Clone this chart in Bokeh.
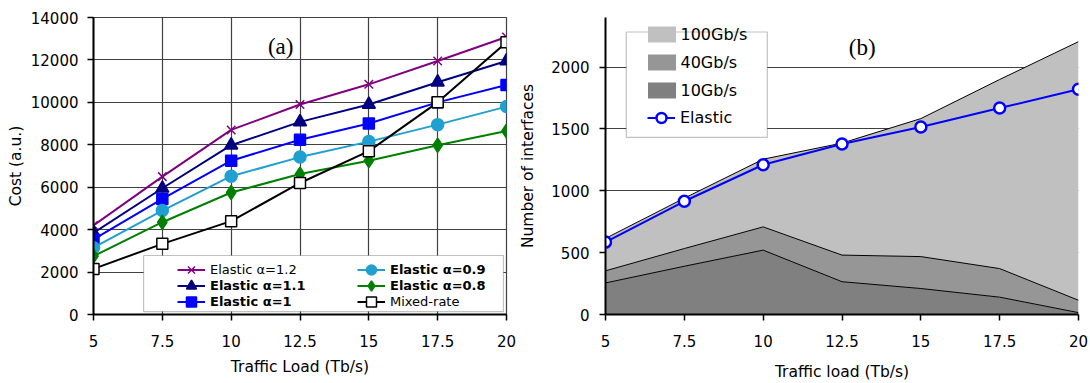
from bokeh.plotting import figure
from bokeh.models import (ColumnDataSource, Legend, LegendItem, BoxAnnotation, Label,
                          Range1d, FixedTicker, NumeralTickFormatter)
from bokeh.layouts import row
from bokeh.embed import file_html
from bokeh.resources import INLINE

# ---------------- data ----------------
load = [5, 7.5, 10, 12.5, 15, 17.5, 20]

elastic_12 = [4200, 6500, 8700, 9900, 10850, 11950, 13080]
elastic_11 = [3850, 5950, 7980, 9080, 9900, 10950, 11950]
elastic_10 = [3540, 5450, 7250, 8240, 9000, 10000, 10820]
elastic_09 = [3150, 4900, 6520, 7420, 8150, 8950, 9800]
elastic_08 = [2750, 4350, 5750, 6620, 7250, 7980, 8650]
mixed_rate = [2150, 3330, 4400, 6200, 7700, 10000, 12830]

if_10g = [255, 390, 520, 265, 210, 140, 15]
if_40g = [98, 143, 188, 215, 258, 231, 100]
if_100g = [262, 407, 547, 905, 1115, 1528, 2090]
elastic_if = [585, 915, 1210, 1378, 1515, 1668, 1820]

cost_ticks = [0, 2000, 4000, 6000, 8000, 10000, 12000, 14000]
if_ticks = [0, 500, 1000, 1500, 2000]

FONT = "DejaVu Sans"


def style_axes(p):
    for ax in (p.xaxis[0], p.yaxis[0]):
        ax.axis_line_color = "black"
        ax.axis_line_width = 2
        ax.major_tick_line_color = "black"
        ax.major_tick_line_width = 1.5
        ax.major_tick_out = 6
        ax.major_tick_in = 0
        ax.minor_tick_line_color = None
        ax.major_label_text_font = FONT
        ax.major_label_text_font_size = "15px"
        ax.major_label_text_color = "black"
        ax.axis_label_text_font = FONT
        ax.axis_label_text_font_size = "15.5px"
        ax.axis_label_text_font_style = "normal"
        ax.axis_label_text_color = "black"


# ---------------- left chart (a) ----------------
p1 = figure(width=516, height=383, x_range=Range1d(5, 20), y_range=Range1d(0, 14000),
            output_backend="svg", toolbar_location=None,
            min_border_left=93, min_border_right=10, min_border_top=17, min_border_bottom=64)
p1.background_fill_color = "white"
p1.border_fill_color = "white"
p1.outline_line_color = "#404040"
p1.outline_line_width = 1.2
p1.xaxis.ticker = FixedTicker(ticks=load)
p1.yaxis.ticker = FixedTicker(ticks=cost_ticks)
p1.xaxis.formatter = NumeralTickFormatter(format="0.[0]")
p1.xaxis.axis_label = "Traffic Load (Tb/s)"
p1.yaxis.axis_label = "Cost (a.u.)"
style_axes(p1)
p1.yaxis.major_label_standoff = 9
p1.xaxis.major_label_standoff = 14
p1.xaxis.axis_label_standoff = 8
p1.yaxis.axis_label_standoff = 3
p1.xgrid.grid_line_color = "#404040"
p1.ygrid.grid_line_color = "#404040"
p1.xgrid.grid_line_width = 1.2
p1.ygrid.grid_line_width = 1.2

src1 = ColumnDataSource(dict(load=load, e12=elastic_12, e11=elastic_11, e10=elastic_10,
                             e09=elastic_09, e08=elastic_08, mix=mixed_rate))

series = [
    ("e12", "Elastic \u03b1=1.2", "#800080", "x", 12, "#800080", False),
    ("e11", "Elastic \u03b1=1.1", "#000080", "triangle", 13, "#000080", True),
    ("e10", "Elastic \u03b1=1", "#0000ff", "square", 11, "#0000ff", True),
    ("e09", "Elastic \u03b1=0.9", "#20a0d0", "circle", 12, "#20a0d0", True),
    ("e08", "Elastic \u03b1=0.8", "#008000", "diamond", 14, "#008000", True),
    ("mix", "Mixed-rate", "black", "square", 11, "white", False),
]

renderers = {}
for key, label, color, marker, size, fill, bold in series:
    lr = p1.line("load", key, source=src1, line_color=color, line_width=2)
    sr = p1.scatter("load", key, source=src1, marker=marker, size=size,
                    line_color=color, fill_color=fill, line_width=1.5)
    renderers[key] = (lr, sr, label, bold)

# legend frame
p1.add_layout(BoxAnnotation(left=6.82, right=19.89, bottom=139, top=2781,
                            fill_color="white", fill_alpha=1.0,
                            line_color="#333333", line_width=1.2, level="annotation"))

# single-item legends (screen px from the frame's bottom-left corner)
left_pos = {"e12": (84, 32.5), "e11": (84, 16.5), "e10": (84, 0.5),
            "e09": (264, 32.5), "e08": (264, 16.5), "mix": (264, 0.5)}
for key, (vx, vy) in left_pos.items():
    lr, sr, label, bold = renderers[key]
    lg = Legend(items=[LegendItem(label=label, renderers=[lr, sr])], location=(vx, vy),
                padding=0, margin=0, spacing=0, glyph_width=28, glyph_height=25,
                label_height=25, label_standoff=5, label_text_font=FONT,
                label_text_font_size="13px", label_text_color="black",
                label_text_font_style="bold" if bold else "normal",
                background_fill_alpha=0, border_line_alpha=0)
    p1.add_layout(lg, "center")

p1.add_layout(Label(x=11.8, y=12650, text="(a)", text_font="Liberation Serif",
                    text_font_size="23px", text_color="black",
                    text_align="center", text_baseline="middle"))

# ---------------- right chart (b) ----------------
p2 = figure(width=574, height=383, x_range=Range1d(5, 20), y_range=Range1d(0, 2400),
            output_backend="svg", toolbar_location=None,
            min_border_left=85, min_border_right=12, min_border_top=7, min_border_bottom=69)
p2.background_fill_color = "white"
p2.border_fill_color = "white"
p2.outline_line_color = None
p2.xaxis.ticker = FixedTicker(ticks=load)
p2.yaxis.ticker = FixedTicker(ticks=if_ticks)
p2.xaxis.formatter = NumeralTickFormatter(format="0.[0]")
p2.xaxis.axis_label = "Traffic load (Tb/s)"
p2.yaxis.axis_label = "Number of interfaces"
style_axes(p2)
p2.yaxis.major_label_standoff = 10
p2.xaxis.major_label_standoff = 14
p2.xaxis.axis_label_standoff = 13
p2.yaxis.axis_label_standoff = 11
p2.xgrid.visible = False
p2.ygrid.grid_line_color = "#404040"
p2.ygrid.grid_line_width = 1

src2 = ColumnDataSource(dict(load=load, g10=if_10g, g40=if_40g, g100=if_100g, el=elastic_if))
stackers = ["g10", "g40", "g100"]
areas = p2.varea_stack(stackers, x="load", color=["#808080", "#969696", "#c0c0c0"], source=src2)
p2.vline_stack(stackers, x="load", color="black", line_width=1, source=src2)

el_line = p2.line("load", "el", source=src2, line_color="#0000ff", line_width=2)
el_pts = p2.scatter("load", "el", source=src2, marker="circle", size=11,
                    line_color="#0000ff", fill_color="white", line_width=2.5)

p2.add_layout(BoxAnnotation(left=5.66, right=10.13, bottom=1431, top=2283,
                            fill_color="white", fill_alpha=1.0,
                            line_color="#333333", line_width=1.2, level="annotation"))

leg_area = Legend(items=[LegendItem(label="100Gb/s", renderers=[areas[2]]),
                         LegendItem(label="40Gb/s", renderers=[areas[1]]),
                         LegendItem(label="10Gb/s", renderers=[areas[0]])],
                  location=(38.5, 214), padding=0, margin=0, spacing=8,
                  glyph_width=35, glyph_height=20, label_height=20, label_standoff=2,
                  label_text_font=FONT, label_text_font_size="16px", label_text_color="black",
                  background_fill_alpha=0, border_line_alpha=0)
p2.add_layout(leg_area, "center")
leg_el = Legend(items=[LegendItem(label="Elastic", renderers=[el_line, el_pts])],
                location=(42, 184.5), padding=0, margin=0, spacing=0,
                glyph_width=28, glyph_height=25, label_height=25, label_standoff=5,
                label_text_font=FONT, label_text_font_size="16px", label_text_color="black",
                background_fill_alpha=0, border_line_alpha=0)
p2.add_layout(leg_el, "center")

p2.add_layout(Label(x=13.14, y=2160, text="(b)", text_font="Liberation Serif",
                    text_font_size="23px", text_color="black",
                    text_align="center", text_baseline="middle"))

layout = row(p1, p2)
open("out.html", "w").write(file_html(layout, INLINE))
